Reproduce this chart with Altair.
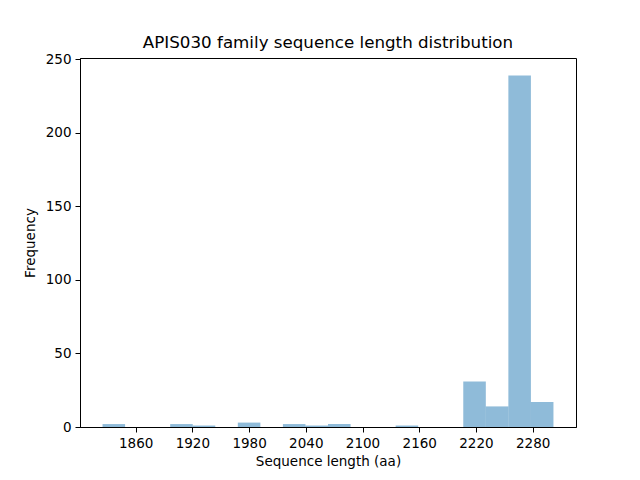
import numpy as np
import pandas as pd
import altair as alt

# Histogram counts (20 bins)
counts = [2, 0, 0, 2, 1, 0, 3, 0, 2, 1, 2, 0, 0, 1, 0, 0, 31, 14, 239, 17]
len_min = 1825
len_max = 2302
x_ticks = [1860, 1920, 1980, 2040, 2100, 2160, 2220, 2280]
y_ticks = [0, 50, 100, 150, 200, 250]

edges = np.linspace(len_min, len_max, len(counts) + 1)
df = pd.DataFrame({
    "start": edges[:-1],
    "end": edges[1:],
    "count": counts,
})

pad = (len_max - len_min) * 0.05
x_dom = [len_min - pad, len_max + pad]
y_dom = [0, max(counts) * 1.05]

font = "DejaVu Sans"

bars = alt.Chart(df).mark_rect(color="#1f77b4", opacity=0.5).encode(
    x=alt.X("start:Q", scale=alt.Scale(domain=x_dom, nice=False, zero=False),
            axis=alt.Axis(title="Sequence length (aa)", values=x_ticks, format="d")),
    x2="end:Q",
    y=alt.Y("count:Q", scale=alt.Scale(domain=y_dom, nice=False),
            axis=alt.Axis(title="Frequency", values=y_ticks)),
    y2=alt.datum(0),
)

chart = bars.properties(
    width=496,
    height=369,
    title="APIS030 family sequence length distribution",
    autosize=alt.AutoSizeParams(type="none"),
    padding={"left": 72, "top": 50, "right": 56, "bottom": 45},
).configure_view(
    stroke="black", strokeWidth=1
).configure_axis(
    grid=False,
    domainColor="black",
    tickColor="black",
    tickSize=5,
    labelPadding=4,
    labelFont=font,
    labelFontSize=13.5,
    labelColor="black",
    titleFont=font,
    titleFontSize=13.5,
    titleFontWeight="normal",
    titleColor="black",
).configure_axisY(
    titlePadding=8,
).configure_axisX(
    titlePadding=5,
).configure_title(
    font=font,
    fontSize=16.7,
    fontWeight="normal",
    color="black",
    offset=1,
)

chart.save("out.html", embed_options={"renderer": "svg", "actions": False})
